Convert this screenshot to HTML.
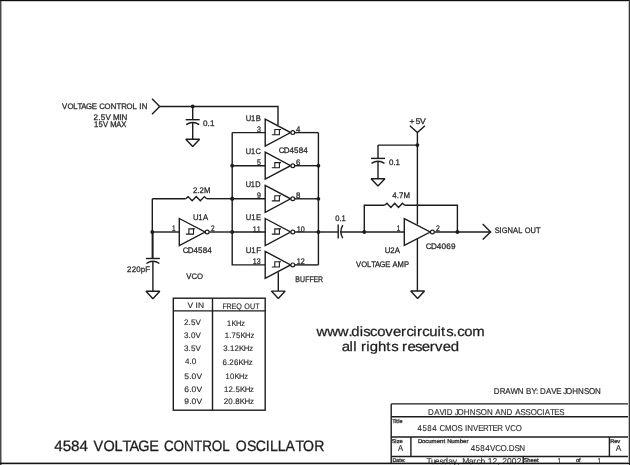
<!DOCTYPE html>
<html><head><meta charset="utf-8"><style>
html,body{margin:0;padding:0;background:#fff;width:630px;height:465px;overflow:hidden}
svg{display:block;will-change:transform;text-rendering:geometricPrecision;font-family:"Liberation Sans",sans-serif}
</style></head><body>
<svg width="630" height="465" viewBox="0 0 630 465">
<rect width="630" height="465" fill="#fff"/>
<path d="M152.00,98.80 L159.70,106.50 L152.00,114.20" fill="none" stroke="#1c1c1c" stroke-width="1.4"/>
<path d="M159.70,106.50 L278.00,106.50 L278.00,125.00" fill="none" stroke="#1c1c1c" stroke-width="1.4"/>
<circle cx="192.70" cy="106.50" r="1.9" fill="#1c1c1c"/>
<path d="M192.70,106.50 L192.70,119.70" fill="none" stroke="#1c1c1c" stroke-width="1.4"/>
<path d="M185.70,119.70 L199.70,119.70" fill="none" stroke="#1c1c1c" stroke-width="1.4"/>
<path d="M186.20,124.70 Q192.70,120.30 199.20,124.70" fill="none" stroke="#1c1c1c" stroke-width="1.4"/>
<path d="M192.70,122.30 L192.70,139.20" fill="none" stroke="#1c1c1c" stroke-width="1.4"/>
<path d="M185.80,139.20 L199.60,139.20 L192.70,146.60Z" fill="none" stroke="#1c1c1c" stroke-width="1.4" stroke-linejoin="bevel"/>
<text transform="scale(0.9713,1)" y="109.00" font-size="8.0" fill="#2a2a2a" stroke="#2a2a2a" stroke-width="0.28"><tspan x="63.94">V</tspan><tspan x="69.38">O</tspan><tspan x="75.50">L</tspan><tspan x="79.89">T</tspan><tspan x="83.70">A</tspan><tspan x="88.52">G</tspan><tspan x="94.55">E</tspan><tspan x="102.10">C</tspan><tspan x="107.66">O</tspan><tspan x="113.92">N</tspan><tspan x="119.83">T</tspan><tspan x="124.73">R</tspan><tspan x="130.25">O</tspan><tspan x="136.52">L</tspan><tspan x="143.48">I</tspan><tspan x="145.82">N</tspan></text>
<text transform="scale(1.0041,1)" y="120.00" font-size="8.0" fill="#2a2a2a" stroke="#2a2a2a" stroke-width="0.28"><tspan x="93.22">2</tspan><tspan x="97.95">.</tspan><tspan x="100.31">5</tspan><tspan x="105.04">V</tspan><tspan x="112.49">M</tspan><tspan x="118.91">I</tspan><tspan x="121.10">N</tspan></text>
<text transform="scale(0.9489,1)" y="126.70" font-size="8.0" fill="#2a2a2a" stroke="#2a2a2a" stroke-width="0.28"><tspan x="98.95">1</tspan><tspan x="103.75">5</tspan><tspan x="108.54">V</tspan><tspan x="116.08">M</tspan><tspan x="122.58">A</tspan><tspan x="127.74">X</tspan></text>
<text transform="scale(1.0162,1)" y="125.80" font-size="8.0" fill="#2a2a2a" stroke="#2a2a2a" stroke-width="0.28"><tspan x="199.86">0</tspan><tspan x="204.31">.</tspan><tspan x="206.54">1</tspan></text>
<path d="M265.20,119.10 L290.60,132.60 L265.20,146.10Z" fill="none" stroke="#1c1c1c" stroke-width="1.4"/>
<circle cx="292.80" cy="132.60" r="1.9" fill="#fff" stroke="#1c1c1c" stroke-width="1.2"/>
<path d="M271.80,134.70 H279.40 V129.50 H274.80 V134.70" fill="none" stroke="#1c1c1c" stroke-width="1.1"/>
<path d="M279.40,129.50 H281.00" fill="none" stroke="#1c1c1c" stroke-width="1.1"/>
<path d="M265.20,152.20 L290.60,165.70 L265.20,179.20Z" fill="none" stroke="#1c1c1c" stroke-width="1.4"/>
<circle cx="292.80" cy="165.70" r="1.9" fill="#fff" stroke="#1c1c1c" stroke-width="1.2"/>
<path d="M271.80,167.80 H279.40 V162.60 H274.80 V167.80" fill="none" stroke="#1c1c1c" stroke-width="1.1"/>
<path d="M279.40,162.60 H281.00" fill="none" stroke="#1c1c1c" stroke-width="1.1"/>
<path d="M265.20,185.30 L290.60,198.80 L265.20,212.30Z" fill="none" stroke="#1c1c1c" stroke-width="1.4"/>
<circle cx="292.80" cy="198.80" r="1.9" fill="#fff" stroke="#1c1c1c" stroke-width="1.2"/>
<path d="M271.80,200.90 H279.40 V195.70 H274.80 V200.90" fill="none" stroke="#1c1c1c" stroke-width="1.1"/>
<path d="M279.40,195.70 H281.00" fill="none" stroke="#1c1c1c" stroke-width="1.1"/>
<path d="M265.20,218.50 L290.60,232.00 L265.20,245.50Z" fill="none" stroke="#1c1c1c" stroke-width="1.4"/>
<circle cx="292.80" cy="232.00" r="1.9" fill="#fff" stroke="#1c1c1c" stroke-width="1.2"/>
<path d="M271.80,234.10 H279.40 V228.90 H274.80 V234.10" fill="none" stroke="#1c1c1c" stroke-width="1.1"/>
<path d="M279.40,228.90 H281.00" fill="none" stroke="#1c1c1c" stroke-width="1.1"/>
<path d="M265.20,251.40 L290.60,264.90 L265.20,278.40Z" fill="none" stroke="#1c1c1c" stroke-width="1.4"/>
<circle cx="292.80" cy="264.90" r="1.9" fill="#fff" stroke="#1c1c1c" stroke-width="1.2"/>
<path d="M271.80,267.00 H279.40 V261.80 H274.80 V267.00" fill="none" stroke="#1c1c1c" stroke-width="1.1"/>
<path d="M279.40,261.80 H281.00" fill="none" stroke="#1c1c1c" stroke-width="1.1"/>
<path d="M232.20,132.60 L265.20,132.60" fill="none" stroke="#1c1c1c" stroke-width="1.4"/>
<path d="M232.20,132.60 L232.20,264.90 L265.20,264.90" fill="none" stroke="#1c1c1c" stroke-width="1.4"/>
<path d="M232.20,165.70 L265.20,165.70" fill="none" stroke="#1c1c1c" stroke-width="1.4"/>
<circle cx="232.20" cy="165.70" r="1.9" fill="#1c1c1c"/>
<path d="M232.20,198.80 L265.20,198.80" fill="none" stroke="#1c1c1c" stroke-width="1.4"/>
<circle cx="232.20" cy="198.80" r="1.9" fill="#1c1c1c"/>
<path d="M232.20,232.00 L265.20,232.00" fill="none" stroke="#1c1c1c" stroke-width="1.4"/>
<circle cx="232.20" cy="232.00" r="1.9" fill="#1c1c1c"/>
<path d="M294.70,132.60 L318.40,132.60" fill="none" stroke="#1c1c1c" stroke-width="1.4"/>
<path d="M294.70,165.70 L318.40,165.70" fill="none" stroke="#1c1c1c" stroke-width="1.4"/>
<path d="M294.70,198.80 L318.40,198.80" fill="none" stroke="#1c1c1c" stroke-width="1.4"/>
<path d="M294.70,232.00 L318.40,232.00" fill="none" stroke="#1c1c1c" stroke-width="1.4"/>
<path d="M294.70,264.90 L318.40,264.90" fill="none" stroke="#1c1c1c" stroke-width="1.4"/>
<path d="M318.40,132.60 L318.40,264.90" fill="none" stroke="#1c1c1c" stroke-width="1.4"/>
<circle cx="318.40" cy="165.70" r="1.9" fill="#1c1c1c"/>
<circle cx="318.40" cy="198.80" r="1.9" fill="#1c1c1c"/>
<circle cx="318.40" cy="232.00" r="1.9" fill="#1c1c1c"/>
<path d="M278.30,272.20 L278.30,291.10" fill="none" stroke="#1c1c1c" stroke-width="1.4"/>
<path d="M271.40,291.10 L285.20,291.10 L278.30,298.50Z" fill="none" stroke="#1c1c1c" stroke-width="1.4" stroke-linejoin="bevel"/>
<text transform="scale(0.9513,1)" y="120.80" font-size="8.0" fill="#2a2a2a" stroke="#2a2a2a" stroke-width="0.28"><tspan x="258.39">U</tspan><tspan x="263.93">1</tspan><tspan x="268.74">B</tspan></text>
<text transform="scale(0.8784,1)" y="132.10" font-size="8.0" fill="#2a2a2a" stroke="#2a2a2a" stroke-width="0.28"><tspan x="292.58">3</tspan></text>
<text transform="scale(0.9685,1)" y="132.10" font-size="8.0" fill="#2a2a2a" stroke="#2a2a2a" stroke-width="0.28"><tspan x="305.74">4</tspan></text>
<text transform="scale(0.9273,1)" y="153.90" font-size="8.0" fill="#2a2a2a" stroke="#2a2a2a" stroke-width="0.28"><tspan x="265.07">U</tspan><tspan x="270.72">1</tspan><tspan x="275.64">C</tspan></text>
<text transform="scale(0.8784,1)" y="165.20" font-size="8.0" fill="#2a2a2a" stroke="#2a2a2a" stroke-width="0.28"><tspan x="292.58">5</tspan></text>
<text transform="scale(0.9685,1)" y="165.20" font-size="8.0" fill="#2a2a2a" stroke="#2a2a2a" stroke-width="0.28"><tspan x="305.74">6</tspan></text>
<text transform="scale(0.9252,1)" y="187.00" font-size="8.0" fill="#2a2a2a" stroke="#2a2a2a" stroke-width="0.28"><tspan x="265.69">U</tspan><tspan x="271.16">1</tspan><tspan x="275.91">D</tspan></text>
<text transform="scale(0.8784,1)" y="198.30" font-size="8.0" fill="#2a2a2a" stroke="#2a2a2a" stroke-width="0.28"><tspan x="292.58">9</tspan></text>
<text transform="scale(0.9685,1)" y="198.30" font-size="8.0" fill="#2a2a2a" stroke="#2a2a2a" stroke-width="0.28"><tspan x="305.74">8</tspan></text>
<text transform="scale(0.9512,1)" y="220.20" font-size="8.0" fill="#2a2a2a" stroke="#2a2a2a" stroke-width="0.28"><tspan x="258.40">U</tspan><tspan x="264.10">1</tspan><tspan x="269.05">E</tspan></text>
<text transform="scale(0.8749,1)" y="231.50" font-size="8.0" fill="#2a2a2a" stroke="#2a2a2a" stroke-width="0.28"><tspan x="288.94">1</tspan><tspan x="293.38">1</tspan></text>
<text transform="scale(0.8974,1)" y="231.50" font-size="8.0" fill="#2a2a2a" stroke="#2a2a2a" stroke-width="0.28"><tspan x="330.75">1</tspan><tspan x="335.19">0</tspan></text>
<text transform="scale(0.9789,1)" y="253.10" font-size="8.0" fill="#2a2a2a" stroke="#2a2a2a" stroke-width="0.28"><tspan x="251.10">U</tspan><tspan x="256.79">1</tspan><tspan x="261.73">F</tspan></text>
<text transform="scale(0.8749,1)" y="264.40" font-size="8.0" fill="#2a2a2a" stroke="#2a2a2a" stroke-width="0.28"><tspan x="288.94">1</tspan><tspan x="293.38">3</tspan></text>
<text transform="scale(0.8974,1)" y="264.40" font-size="8.0" fill="#2a2a2a" stroke="#2a2a2a" stroke-width="0.28"><tspan x="330.75">1</tspan><tspan x="335.19">2</tspan></text>
<text transform="scale(0.9994,1)" y="152.80" font-size="8.0" fill="#2a2a2a" stroke="#2a2a2a" stroke-width="0.28"><tspan x="278.86">C</tspan><tspan x="283.96">D</tspan><tspan x="289.58">4</tspan><tspan x="294.22">5</tspan><tspan x="298.87">8</tspan><tspan x="303.52">4</tspan></text>
<text transform="scale(0.8667,1)" y="281.50" font-size="8.0" fill="#2a2a2a" stroke="#2a2a2a" stroke-width="0.28"><tspan x="340.61">B</tspan><tspan x="346.24">U</tspan><tspan x="352.25">F</tspan><tspan x="356.97">F</tspan><tspan x="361.69">E</tspan><tspan x="366.87">R</tspan></text>
<path d="M152.30,198.70 L185.70,198.70" fill="none" stroke="#1c1c1c" stroke-width="1.4"/>
<path d="M206.70,198.70 L232.20,198.70" fill="none" stroke="#1c1c1c" stroke-width="1.4"/>
<path d="M185.70,198.70 L188.10,196.60 L192.17,200.80 L196.25,196.60 L200.32,200.80 L204.40,196.60 L206.70,198.70" fill="none" stroke="#1c1c1c" stroke-width="1.4"/>
<circle cx="232.20" cy="198.70" r="1.9" fill="#1c1c1c"/>
<path d="M152.30,198.70 L152.30,258.50" fill="none" stroke="#1c1c1c" stroke-width="1.4"/>
<circle cx="152.30" cy="232.00" r="1.9" fill="#1c1c1c"/>
<path d="M152.30,232.00 L179.30,232.00" fill="none" stroke="#1c1c1c" stroke-width="1.4"/>
<path d="M179.30,218.50 L205.00,232.00 L179.30,245.50Z" fill="none" stroke="#1c1c1c" stroke-width="1.4"/>
<circle cx="207.20" cy="232.00" r="1.9" fill="#fff" stroke="#1c1c1c" stroke-width="1.2"/>
<path d="M185.90,234.10 H193.50 V228.90 H188.90 V234.10" fill="none" stroke="#1c1c1c" stroke-width="1.1"/>
<path d="M193.50,228.90 H195.10" fill="none" stroke="#1c1c1c" stroke-width="1.1"/>
<path d="M209.20,232.00 L232.20,232.00" fill="none" stroke="#1c1c1c" stroke-width="1.4"/>
<path d="M152.90,232.00 L152.90,258.50" fill="none" stroke="#1c1c1c" stroke-width="1.4"/>
<path d="M145.90,258.50 L159.90,258.50" fill="none" stroke="#1c1c1c" stroke-width="1.4"/>
<path d="M146.40,263.50 Q152.90,259.10 159.40,263.50" fill="none" stroke="#1c1c1c" stroke-width="1.4"/>
<path d="M152.90,261.10 L152.90,291.30" fill="none" stroke="#1c1c1c" stroke-width="1.4"/>
<path d="M146.00,291.30 L159.80,291.30 L152.90,298.70Z" fill="none" stroke="#1c1c1c" stroke-width="1.4" stroke-linejoin="bevel"/>
<text transform="scale(0.9607,1)" y="193.10" font-size="8.0" fill="#2a2a2a" stroke="#2a2a2a" stroke-width="0.28"><tspan x="200.80">2</tspan><tspan x="205.41">.</tspan><tspan x="207.71">2</tspan><tspan x="212.33">M</tspan></text>
<text transform="scale(0.9640,1)" y="220.00" font-size="8.0" fill="#2a2a2a" stroke="#2a2a2a" stroke-width="0.28"><tspan x="200.10">U</tspan><tspan x="205.66">1</tspan><tspan x="210.49">A</tspan></text>
<text transform="scale(0.8000,1)" y="231.30" font-size="8.0" fill="#2a2a2a" stroke="#2a2a2a" stroke-width="0.28"><tspan x="215.12">1</tspan></text>
<text transform="scale(0.8108,1)" y="231.30" font-size="8.0" fill="#2a2a2a" stroke="#2a2a2a" stroke-width="0.28"><tspan x="260.23">2</tspan></text>
<text transform="scale(0.9994,1)" y="253.30" font-size="8.0" fill="#2a2a2a" stroke="#2a2a2a" stroke-width="0.28"><tspan x="182.80">C</tspan><tspan x="187.90">D</tspan><tspan x="193.52">4</tspan><tspan x="198.17">5</tspan><tspan x="202.82">8</tspan><tspan x="207.46">4</tspan></text>
<text transform="scale(0.9834,1)" y="272.30" font-size="8.0" fill="#2a2a2a" stroke="#2a2a2a" stroke-width="0.28"><tspan x="129.24">2</tspan><tspan x="133.87">2</tspan><tspan x="138.49">0</tspan><tspan x="143.12">p</tspan><tspan x="147.73">F</tspan></text>
<text transform="scale(0.9642,1)" y="279.00" font-size="8.0" fill="#2a2a2a" stroke="#2a2a2a" stroke-width="0.28"><tspan x="193.22">V</tspan><tspan x="198.68">C</tspan><tspan x="204.25">O</tspan></text>
<path d="M318.40,232.00 L338.20,232.00" fill="none" stroke="#1c1c1c" stroke-width="1.4"/>
<path d="M338.20,224.40 L338.20,238.60" fill="none" stroke="#1c1c1c" stroke-width="1.4"/>
<path d="M342.8,225.2 Q338.9,232.0 342.8,238.2" fill="none" stroke="#1c1c1c" stroke-width="1.4"/>
<path d="M340.20,232.00 L404.30,232.00" fill="none" stroke="#1c1c1c" stroke-width="1.4"/>
<circle cx="364.30" cy="232.00" r="1.9" fill="#1c1c1c"/>
<path d="M364.30,232.00 L364.30,205.30 L384.60,205.30" fill="none" stroke="#1c1c1c" stroke-width="1.4"/>
<path d="M384.60,205.30 L387.00,203.20 L390.85,207.40 L394.70,203.20 L398.55,207.40 L402.40,203.20 L404.70,205.30" fill="none" stroke="#1c1c1c" stroke-width="1.4"/>
<path d="M404.70,205.30 L457.40,205.30 L457.40,232.00" fill="none" stroke="#1c1c1c" stroke-width="1.4"/>
<circle cx="457.40" cy="232.00" r="1.9" fill="#1c1c1c"/>
<path d="M404.30,218.70 L430.20,232.00 L404.30,245.30Z" fill="none" stroke="#1c1c1c" stroke-width="1.4"/>
<circle cx="432.40" cy="232.00" r="1.9" fill="#fff" stroke="#1c1c1c" stroke-width="1.2"/>
<path d="M434.60,232.00 L490.60,232.00" fill="none" stroke="#1c1c1c" stroke-width="1.4"/>
<path d="M482.70,224.10 L490.60,232.00 L482.70,239.50" fill="none" stroke="#1c1c1c" stroke-width="1.4"/>
<path d="M409.90,125.70 L417.40,132.60 L424.90,125.70" fill="none" stroke="#1c1c1c" stroke-width="1.4"/>
<path d="M417.40,132.60 L417.40,224.60" fill="none" stroke="#1c1c1c" stroke-width="1.4"/>
<path d="M417.40,238.50 L417.40,291.00" fill="none" stroke="#1c1c1c" stroke-width="1.4"/>
<path d="M410.70,291.00 L424.50,291.00 L417.60,298.40Z" fill="none" stroke="#1c1c1c" stroke-width="1.4" stroke-linejoin="bevel"/>
<circle cx="417.40" cy="145.10" r="1.9" fill="#1c1c1c"/>
<path d="M417.40,145.10 L378.00,145.10" fill="none" stroke="#1c1c1c" stroke-width="1.4"/>
<path d="M378.00,145.10 L378.00,158.40" fill="none" stroke="#1c1c1c" stroke-width="1.4"/>
<path d="M371.00,158.40 L385.00,158.40" fill="none" stroke="#1c1c1c" stroke-width="1.4"/>
<path d="M371.50,163.40 Q378.00,159.00 384.50,163.40" fill="none" stroke="#1c1c1c" stroke-width="1.4"/>
<path d="M378.00,161.00 L378.00,178.70" fill="none" stroke="#1c1c1c" stroke-width="1.4"/>
<path d="M371.10,178.70 L384.90,178.70 L378.00,186.10Z" fill="none" stroke="#1c1c1c" stroke-width="1.4" stroke-linejoin="bevel"/>
<text transform="scale(1.0734,1)" y="123.50" font-size="8.0" fill="#2a2a2a" stroke="#2a2a2a" stroke-width="0.28"><tspan x="381.40">+</tspan><tspan x="387.00">5</tspan><tspan x="391.26">V</tspan></text>
<text transform="scale(0.9892,1)" y="164.80" font-size="8.0" fill="#2a2a2a" stroke="#2a2a2a" stroke-width="0.28"><tspan x="393.24">0</tspan><tspan x="397.69">.</tspan><tspan x="399.92">1</tspan></text>
<text transform="scale(0.9775,1)" y="198.00" font-size="8.0" fill="#2a2a2a" stroke="#2a2a2a" stroke-width="0.28"><tspan x="401.22">4</tspan><tspan x="405.83">.</tspan><tspan x="408.13">7</tspan><tspan x="412.75">M</tspan></text>
<text transform="scale(0.9442,1)" y="220.70" font-size="8.0" fill="#2a2a2a" stroke="#2a2a2a" stroke-width="0.28"><tspan x="355.10">0</tspan><tspan x="359.55">.</tspan><tspan x="361.77">1</tspan></text>
<text transform="scale(0.8000,1)" y="231.00" font-size="8.0" fill="#2a2a2a" stroke="#2a2a2a" stroke-width="0.28"><tspan x="495.87">1</tspan></text>
<text transform="scale(0.8559,1)" y="231.00" font-size="8.0" fill="#2a2a2a" stroke="#2a2a2a" stroke-width="0.28"><tspan x="509.55">2</tspan></text>
<text transform="scale(0.9769,1)" y="252.80" font-size="8.0" fill="#2a2a2a" stroke="#2a2a2a" stroke-width="0.28"><tspan x="393.81">U</tspan><tspan x="399.37">2</tspan><tspan x="404.20">A</tspan></text>
<text transform="scale(1.0199,1)" y="249.00" font-size="8.0" fill="#2a2a2a" stroke="#2a2a2a" stroke-width="0.28"><tspan x="417.49">C</tspan><tspan x="422.59">D</tspan><tspan x="428.21">4</tspan><tspan x="432.86">0</tspan><tspan x="437.50">6</tspan><tspan x="442.15">9</tspan></text>
<text transform="scale(0.9460,1)" y="267.20" font-size="8.0" fill="#2a2a2a" stroke="#2a2a2a" stroke-width="0.28"><tspan x="376.41">V</tspan><tspan x="381.89">O</tspan><tspan x="388.05">L</tspan><tspan x="392.47">T</tspan><tspan x="396.30">A</tspan><tspan x="401.15">G</tspan><tspan x="407.22">E</tspan><tspan x="414.82">A</tspan><tspan x="420.30">M</tspan><tspan x="427.20">P</tspan></text>
<text transform="scale(0.9377,1)" y="233.40" font-size="8.0" fill="#2a2a2a" stroke="#2a2a2a" stroke-width="0.28"><tspan x="527.70">S</tspan><tspan x="532.73">I</tspan><tspan x="535.07">G</tspan><tspan x="541.22">N</tspan><tspan x="547.15">A</tspan><tspan x="552.58">L</tspan><tspan x="559.52">O</tspan><tspan x="565.76">U</tspan><tspan x="571.52">T</tspan></text>
<rect x="173.3" y="298.2" width="91.9" height="112.0" fill="none" stroke="#1c1c1c" stroke-width="1.4"/>
<path d="M173.30,310.90 L265.20,310.90" fill="none" stroke="#1c1c1c" stroke-width="1.4"/>
<path d="M212.50,298.20 L212.50,410.20" fill="none" stroke="#1c1c1c" stroke-width="1.4"/>
<text transform="scale(1.0543,1)" y="307.70" font-size="8.0" fill="#2a2a2a" stroke="#2a2a2a" stroke-width="0.15"><tspan x="177.85">V</tspan><tspan x="185.56">I</tspan><tspan x="187.83">N</tspan></text>
<text transform="scale(0.8950,1)" y="309.00" font-size="8.0" fill="#2a2a2a" stroke="#2a2a2a" stroke-width="0.15"><tspan x="248.48">F</tspan><tspan x="253.15">R</tspan><tspan x="258.78">E</tspan><tspan x="263.90">Q</tspan><tspan x="272.86">O</tspan><tspan x="279.24">U</tspan><tspan x="285.14">T</tspan></text>
<text transform="scale(1.0036,1)" y="325.20" font-size="8.0" fill="#2a2a2a" stroke="#2a2a2a" stroke-width="0.15"><tspan x="183.33">2</tspan><tspan x="187.93">.</tspan><tspan x="190.23">5</tspan><tspan x="194.82">V</tspan></text>
<text transform="scale(0.9190,1)" y="325.50" font-size="8.0" fill="#2a2a2a" stroke="#2a2a2a" stroke-width="0.15"><tspan x="247.12">1</tspan><tspan x="251.92">K</tspan><tspan x="256.86">H</tspan><tspan x="262.53">z</tspan></text>
<text transform="scale(1.0036,1)" y="337.90" font-size="8.0" fill="#2a2a2a" stroke="#2a2a2a" stroke-width="0.15"><tspan x="183.33">3</tspan><tspan x="187.93">.</tspan><tspan x="190.23">0</tspan><tspan x="194.82">V</tspan></text>
<text transform="scale(0.9609,1)" y="338.30" font-size="8.0" fill="#2a2a2a" stroke="#2a2a2a" stroke-width="0.15"><tspan x="233.96">1</tspan><tspan x="238.62">.</tspan><tspan x="240.95">7</tspan><tspan x="245.61">5</tspan><tspan x="250.28">K</tspan><tspan x="255.08">H</tspan><tspan x="260.60">z</tspan></text>
<text transform="scale(1.0036,1)" y="350.50" font-size="8.0" fill="#2a2a2a" stroke="#2a2a2a" stroke-width="0.15"><tspan x="183.33">3</tspan><tspan x="187.93">.</tspan><tspan x="190.23">5</tspan><tspan x="194.82">V</tspan></text>
<text transform="scale(0.9740,1)" y="351.00" font-size="8.0" fill="#2a2a2a" stroke="#2a2a2a" stroke-width="0.15"><tspan x="229.16">3</tspan><tspan x="233.83">.</tspan><tspan x="236.16">1</tspan><tspan x="240.82">2</tspan><tspan x="245.48">K</tspan><tspan x="250.29">H</tspan><tspan x="255.80">z</tspan></text>
<text transform="scale(0.9982,1)" y="363.50" font-size="8.0" fill="#2a2a2a" stroke="#2a2a2a" stroke-width="0.15"><tspan x="185.43">4</tspan><tspan x="189.88">.</tspan><tspan x="192.11">0</tspan></text>
<text transform="scale(0.9871,1)" y="364.60" font-size="8.0" fill="#2a2a2a" stroke="#2a2a2a" stroke-width="0.15"><tspan x="225.31">6</tspan><tspan x="229.97">.</tspan><tspan x="232.30">2</tspan><tspan x="236.96">6</tspan><tspan x="241.63">K</tspan><tspan x="246.44">H</tspan><tspan x="251.95">z</tspan></text>
<text transform="scale(1.0584,1)" y="378.60" font-size="8.0" fill="#2a2a2a" stroke="#2a2a2a" stroke-width="0.15"><tspan x="174.13">5</tspan><tspan x="178.73">.</tspan><tspan x="181.03">0</tspan><tspan x="185.62">V</tspan></text>
<text transform="scale(0.9323,1)" y="378.90" font-size="8.0" fill="#2a2a2a" stroke="#2a2a2a" stroke-width="0.15"><tspan x="241.98">1</tspan><tspan x="246.70">0</tspan><tspan x="251.43">K</tspan><tspan x="256.30">H</tspan><tspan x="261.89">z</tspan></text>
<text transform="scale(1.0584,1)" y="391.60" font-size="8.0" fill="#2a2a2a" stroke="#2a2a2a" stroke-width="0.15"><tspan x="174.13">6</tspan><tspan x="178.73">.</tspan><tspan x="181.03">0</tspan><tspan x="185.62">V</tspan></text>
<text transform="scale(0.9773,1)" y="391.60" font-size="8.0" fill="#2a2a2a" stroke="#2a2a2a" stroke-width="0.15"><tspan x="229.21">1</tspan><tspan x="233.88">2</tspan><tspan x="238.54">.</tspan><tspan x="240.87">5</tspan><tspan x="245.53">K</tspan><tspan x="250.34">H</tspan><tspan x="255.85">z</tspan></text>
<text transform="scale(1.0584,1)" y="403.50" font-size="8.0" fill="#2a2a2a" stroke="#2a2a2a" stroke-width="0.15"><tspan x="174.13">9</tspan><tspan x="178.73">.</tspan><tspan x="181.03">0</tspan><tspan x="185.62">V</tspan></text>
<text transform="scale(0.9871,1)" y="403.50" font-size="8.0" fill="#2a2a2a" stroke="#2a2a2a" stroke-width="0.15"><tspan x="226.62">2</tspan><tspan x="231.29">0</tspan><tspan x="235.95">.</tspan><tspan x="238.28">8</tspan><tspan x="242.95">K</tspan><tspan x="247.75">H</tspan><tspan x="253.26">z</tspan></text>
<text transform="scale(1.1019,1)" y="335.70" font-size="13.5" fill="#1e1e1e" stroke="#1e1e1e" stroke-width="0.25"><tspan x="287.21">w</tspan><tspan x="296.90">w</tspan><tspan x="306.59">w</tspan><tspan x="316.21">.</tspan><tspan x="318.89">d</tspan><tspan x="326.41">i</tspan><tspan x="329.70">s</tspan><tspan x="335.87">c</tspan><tspan x="342.39">o</tspan><tspan x="349.64">v</tspan><tspan x="356.65">e</tspan><tspan x="363.94">r</tspan><tspan x="368.81">c</tspan><tspan x="375.06">i</tspan><tspan x="378.35">r</tspan><tspan x="383.22">c</tspan><tspan x="389.48">u</tspan><tspan x="396.99">i</tspan><tspan x="400.28">t</tspan><tspan x="404.92">s</tspan><tspan x="411.10">.</tspan><tspan x="414.86">c</tspan><tspan x="421.38">o</tspan><tspan x="428.63">m</tspan></text>
<text transform="scale(1.1053,1)" y="351.10" font-size="13.5" fill="#1e1e1e" stroke="#1e1e1e" stroke-width="0.25"><tspan x="309.15">a</tspan><tspan x="316.32">l</tspan><tspan x="319.57">l</tspan><tspan x="326.53">r</tspan><tspan x="331.34">i</tspan><tspan x="334.59">g</tspan><tspan x="342.01">h</tspan><tspan x="349.42">t</tspan><tspan x="354.00">s</tspan><tspan x="363.81">r</tspan><tspan x="368.62">e</tspan><tspan x="375.55">s</tspan><tspan x="381.64">e</tspan><tspan x="388.84">r</tspan><tspan x="393.64">v</tspan><tspan x="400.56">e</tspan><tspan x="407.75">d</tspan></text>
<text transform="scale(1.0130,1)" y="450.80" font-size="15.0" fill="#1e1e1e" stroke="#1e1e1e" stroke-width="0.3"><tspan x="53.50">4</tspan><tspan x="61.84">5</tspan><tspan x="70.19">8</tspan><tspan x="78.53">4</tspan></text>
<text transform="scale(0.9648,1)" y="450.80" font-size="15.0" fill="#1e1e1e" stroke="#1e1e1e" stroke-width="0.3"><tspan x="97.01">V</tspan><tspan x="107.25">O</tspan><tspan x="118.77">L</tspan><tspan x="127.03">T</tspan><tspan x="134.19">A</tspan><tspan x="143.27">G</tspan><tspan x="154.60">E</tspan></text>
<text transform="scale(0.8989,1)" y="450.80" font-size="15.0" fill="#1e1e1e" stroke="#1e1e1e" stroke-width="0.3"><tspan x="182.44">C</tspan><tspan x="192.91">O</tspan><tspan x="204.70">N</tspan><tspan x="215.84">T</tspan><tspan x="225.06">R</tspan><tspan x="235.48">O</tspan><tspan x="247.27">L</tspan></text>
<text transform="scale(0.9371,1)" y="450.80" font-size="15.0" fill="#1e1e1e" stroke="#1e1e1e" stroke-width="0.3"><tspan x="251.63">O</tspan><tspan x="263.48">S</tspan><tspan x="273.04">C</tspan><tspan x="283.56">I</tspan><tspan x="288.00">L</tspan><tspan x="296.39">L</tspan><tspan x="304.78">A</tspan><tspan x="315.35">T</tspan><tspan x="323.46">O</tspan><tspan x="335.31">R</tspan></text>
<text transform="scale(0.9335,1)" y="394.30" font-size="8.5" fill="#2a2a2a" stroke="#2a2a2a" stroke-width="0.2"><tspan x="528.98">D</tspan><tspan x="535.47">R</tspan><tspan x="541.33">A</tspan><tspan x="546.75">W</tspan><tspan x="554.62">N</tspan><tspan x="563.60">B</tspan><tspan x="569.34">Y</tspan><tspan x="574.07">:</tspan><tspan x="578.46">D</tspan><tspan x="584.95">A</tspan><tspan x="590.57">V</tspan><tspan x="595.79">E</tspan><tspan x="603.33">J</tspan><tspan x="606.28">O</tspan><tspan x="612.91">H</tspan><tspan x="619.25">N</tspan><tspan x="625.55">S</tspan><tspan x="630.90">O</tspan><tspan x="637.53">N</tspan></text>
<path d="M391.20,403.90 L629.00,403.90" fill="none" stroke="#1c1c1c" stroke-width="1.4"/>
<path d="M391.20,403.90 L391.20,463.00" fill="none" stroke="#1c1c1c" stroke-width="1.4"/>
<path d="M391.20,416.80 L629.00,416.80" fill="none" stroke="#1c1c1c" stroke-width="1.4"/>
<path d="M391.20,437.00 L629.00,437.00" fill="none" stroke="#1c1c1c" stroke-width="1.4"/>
<path d="M391.20,456.50 L629.00,456.50" fill="none" stroke="#1c1c1c" stroke-width="1.4"/>
<path d="M410.90,437.00 L410.90,456.50" fill="none" stroke="#1c1c1c" stroke-width="1.4"/>
<path d="M609.40,437.00 L609.40,456.50" fill="none" stroke="#1c1c1c" stroke-width="1.4"/>
<path d="M523.20,456.50 L523.20,463.00" fill="none" stroke="#1c1c1c" stroke-width="1.4"/>
<text transform="scale(0.9337,1)" y="415.20" font-size="8.5" fill="#2a2a2a" stroke="#2a2a2a" stroke-width="0.12"><tspan x="458.50">D</tspan><tspan x="465.02">A</tspan><tspan x="470.65">V</tspan><tspan x="475.90">I</tspan><tspan x="478.39">D</tspan><tspan x="487.13">J</tspan><tspan x="490.09">O</tspan><tspan x="496.75">H</tspan><tspan x="503.11">N</tspan><tspan x="509.44">S</tspan><tspan x="514.81">O</tspan><tspan x="521.46">N</tspan><tspan x="530.48">A</tspan><tspan x="536.27">N</tspan><tspan x="542.59">D</tspan><tspan x="551.80">A</tspan><tspan x="557.58">S</tspan><tspan x="562.95">S</tspan><tspan x="568.32">O</tspan><tspan x="574.98">C</tspan><tspan x="580.89">I</tspan><tspan x="583.38">A</tspan><tspan x="589.13">T</tspan><tspan x="593.68">E</tspan><tspan x="599.02">S</tspan></text>
<text transform="scale(0.9724,1)" y="423.40" font-size="5.6" fill="#2a2a2a" stroke="#2a2a2a" stroke-width="0.3"><tspan x="403.44">T</tspan><tspan x="406.42">i</tspan><tspan x="407.61">t</tspan><tspan x="409.51">l</tspan><tspan x="410.85">e</tspan></text>
<text transform="scale(0.9226,1)" y="431.00" font-size="8.5" fill="#2a2a2a" stroke="#2a2a2a" stroke-width="0.12"><tspan x="452.62">4</tspan><tspan x="457.91">5</tspan><tspan x="463.21">8</tspan><tspan x="468.50">4</tspan><tspan x="476.44">C</tspan><tspan x="482.25">M</tspan><tspan x="489.43">O</tspan><tspan x="495.99">S</tspan><tspan x="503.91">I</tspan><tspan x="506.37">N</tspan><tspan x="512.59">V</tspan><tspan x="518.29">E</tspan><tspan x="523.55">R</tspan><tspan x="529.29">T</tspan><tspan x="533.81">E</tspan><tspan x="539.07">R</tspan><tspan x="547.50">V</tspan><tspan x="553.19">C</tspan><tspan x="559.00">O</tspan></text>
<text transform="scale(1.0309,1)" y="443.20" font-size="5.6" fill="#2a2a2a" stroke="#2a2a2a" stroke-width="0.3"><tspan x="379.95">S</tspan><tspan x="383.30">i</tspan><tspan x="384.77">z</tspan><tspan x="387.55">e</tspan></text>
<text transform="scale(1.0794,1)" y="443.20" font-size="5.6" fill="#2a2a2a" stroke="#2a2a2a" stroke-width="0.3"><tspan x="387.16">D</tspan><tspan x="390.96">o</tspan><tspan x="393.97">c</tspan><tspan x="396.69">u</tspan><tspan x="399.81">m</tspan><tspan x="404.62">e</tspan><tspan x="407.66">n</tspan><tspan x="410.78">t</tspan><tspan x="414.29">N</tspan><tspan x="417.98">u</tspan><tspan x="421.10">m</tspan><tspan x="425.91">b</tspan><tspan x="429.04">e</tspan><tspan x="432.08">r</tspan></text>
<text transform="scale(0.9131,1)" y="450.70" font-size="8.5" fill="#2a2a2a" stroke="#2a2a2a" stroke-width="0.12"><tspan x="435.78">A</tspan></text>
<text transform="scale(0.9489,1)" y="450.50" font-size="8.5" fill="#2a2a2a" stroke="#2a2a2a" stroke-width="0.12"><tspan x="496.05">4</tspan><tspan x="501.15">5</tspan><tspan x="506.24">8</tspan><tspan x="511.34">4</tspan><tspan x="516.44">V</tspan><tspan x="521.91">C</tspan><tspan x="527.51">O</tspan><tspan x="533.81">.</tspan><tspan x="536.03">D</tspan><tspan x="542.20">S</tspan><tspan x="547.28">N</tspan></text>
<text transform="scale(1.0407,1)" y="443.20" font-size="5.6" fill="#2a2a2a" stroke="#2a2a2a" stroke-width="0.3"><tspan x="586.50">R</tspan><tspan x="590.14">e</tspan><tspan x="593.12">v</tspan></text>
<text transform="scale(0.9833,1)" y="450.70" font-size="8.5" fill="#2a2a2a" stroke="#2a2a2a" stroke-width="0.12"><tspan x="626.14">A</tspan></text>
<text transform="scale(0.9618,1)" y="461.80" font-size="5.6" fill="#2a2a2a" stroke="#2a2a2a" stroke-width="0.3"><tspan x="408.18">D</tspan><tspan x="411.97">a</tspan><tspan x="414.99">t</tspan><tspan x="416.92">e</tspan><tspan x="419.95">:</tspan></text>
<text transform="scale(0.9991,1)" y="464.00" font-size="8.5" fill="#2a2a2a" stroke="#2a2a2a" stroke-width="0.12"><tspan x="426.78">T</tspan><tspan x="431.46">u</tspan><tspan x="435.12">e</tspan><tspan x="439.79">s</tspan><tspan x="443.75">d</tspan><tspan x="448.57">a</tspan><tspan x="453.23">y</tspan><tspan x="457.72">,</tspan><tspan x="462.55">M</tspan><tspan x="469.11">a</tspan><tspan x="473.76">r</tspan><tspan x="476.88">c</tspan><tspan x="480.89">h</tspan><tspan x="488.12">1</tspan><tspan x="492.96">2</tspan><tspan x="497.79">,</tspan><tspan x="502.62">2</tspan><tspan x="507.45">0</tspan><tspan x="512.29">0</tspan><tspan x="517.12">2</tspan></text>
<text transform="scale(1.0400,1)" y="461.80" font-size="5.6" fill="#2a2a2a" stroke="#2a2a2a" stroke-width="0.3"><tspan x="503.68">S</tspan><tspan x="506.89">h</tspan><tspan x="510.09">e</tspan><tspan x="513.20">e</tspan><tspan x="516.31">t</tspan></text>
<text transform="scale(0.8000,1)" y="464.00" font-size="8.5" fill="#2a2a2a" stroke="#2a2a2a" stroke-width="0.12"><tspan x="696.88">1</tspan></text>
<text transform="scale(1.0051,1)" y="461.80" font-size="5.6" fill="#2a2a2a" stroke="#2a2a2a" stroke-width="0.3"><tspan x="573.06">o</tspan><tspan x="575.96">f</tspan></text>
<text transform="scale(0.8000,1)" y="464.00" font-size="8.5" fill="#2a2a2a" stroke="#2a2a2a" stroke-width="0.12"><tspan x="746.88">1</tspan></text>
<rect x="0" y="0" width="1" height="465" fill="#474747" shape-rendering="crispEdges"/>
<rect x="1" y="0" width="1" height="465" fill="#a8a8a8" shape-rendering="crispEdges"/>
<rect x="0" y="0" width="630" height="1" fill="#0e0e0e" shape-rendering="crispEdges"/>
<rect x="2" y="1" width="626" height="1" fill="#cfcfcf" shape-rendering="crispEdges"/>
<rect x="629" y="0" width="1" height="465" fill="#353535" shape-rendering="crispEdges"/>
<rect x="628" y="1" width="1" height="461" fill="#c4c4c4" shape-rendering="crispEdges"/>
<rect x="0" y="462.6" width="630" height="1.6" fill="#141414"/>
</svg>
</body></html>
